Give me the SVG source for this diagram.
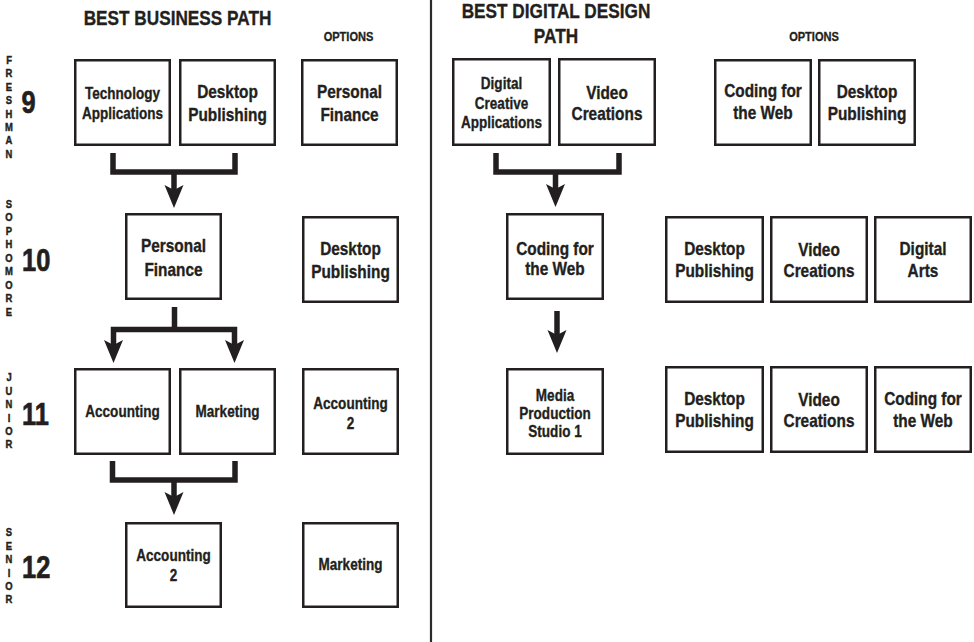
<svg xmlns="http://www.w3.org/2000/svg" xmlns:xlink="http://www.w3.org/1999/xlink" width="974" height="642" viewBox="0 0 974 642">
<style>
  text { font-family: 'Liberation Sans', Arial, sans-serif; font-weight: bold; fill: #231f20; stroke: #231f20; stroke-width: 0.35; }
  .box { fill: #ffffff; stroke: #231f20; stroke-width: 2.5; }
  .t18 { font-size: 18px; text-anchor: middle; }
  .t16 { font-size: 16.5px; text-anchor: middle; }
  .title { font-size: 21px; text-anchor: middle; }
  .opt { font-size: 13.5px; text-anchor: middle; }
  .year { font-size: 31px; stroke-width: 0.7; }
  .vert { font-size: 11.5px; text-anchor: middle; stroke-width: 0.45; }
  .conn { fill: none; stroke: #231f20; stroke-width: 5.5; stroke-linejoin: miter; stroke-linecap: butt; }
  .divider { stroke: #2b2b2b; stroke-width: 2.2; }
</style>
<defs>
  <path id="ah" d="M0,0 L-9.5,-23 L0,-18 L9.5,-23 Z" fill="#231f20"/>
</defs>
<rect x="0" y="0" width="974" height="642" fill="#ffffff"/>

<line class="divider" x1="431" y1="0" x2="431" y2="642"/>

<!-- Headings -->
<g id="headings">
  <text class="title" transform="matrix(0.82 0 0 1 177.5 25)">BEST BUSINESS PATH</text>
  <text class="opt" transform="matrix(0.82 0 0 1 348.5 41)">OPTIONS</text>
  <text class="title" transform="matrix(0.82 0 0 1 556 18)">BEST DIGITAL DESIGN</text>
  <text class="title" transform="matrix(0.82 0 0 1 556 43)">PATH</text>
  <text class="opt" transform="matrix(0.82 0 0 1 814 41)">OPTIONS</text>
</g>

<!-- Year labels -->
<g id="year-9">
  <text class="vert" transform="matrix(0.82 0 0 1 9 0)"><tspan x="0" y="64">F</tspan><tspan x="0" y="77.4">R</tspan><tspan x="0" y="90.8">E</tspan><tspan x="0" y="104.2">S</tspan><tspan x="0" y="117.6">H</tspan><tspan x="0" y="131">M</tspan><tspan x="0" y="144.4">A</tspan><tspan x="0" y="157.8">N</tspan></text>
  <text class="year" transform="matrix(0.82 0 0 1 21.5 113)">9</text>
</g>
<g id="year-10">
  <text class="vert" transform="matrix(0.82 0 0 1 9 0)"><tspan x="0" y="208">S</tspan><tspan x="0" y="221.5">O</tspan><tspan x="0" y="235">P</tspan><tspan x="0" y="248.5">H</tspan><tspan x="0" y="262">O</tspan><tspan x="0" y="275.5">M</tspan><tspan x="0" y="289">O</tspan><tspan x="0" y="302.5">R</tspan><tspan x="0" y="316">E</tspan></text>
  <text class="year" transform="matrix(0.82 0 0 1 22 271)">10</text>
</g>
<g id="year-11">
  <text class="vert" transform="matrix(0.82 0 0 1 9 0)"><tspan x="0" y="381.5">J</tspan><tspan x="0" y="394.9">U</tspan><tspan x="0" y="408.3">N</tspan><tspan x="0" y="421.7">I</tspan><tspan x="0" y="435.1">O</tspan><tspan x="0" y="448.5">R</tspan></text>
  <text class="year" transform="matrix(0.82 0 0 1 22 425)">11</text>
</g>
<g id="year-12">
  <text class="vert" transform="matrix(0.82 0 0 1 9 0)"><tspan x="0" y="536.5">S</tspan><tspan x="0" y="549.9">E</tspan><tspan x="0" y="563.3">N</tspan><tspan x="0" y="576.7">I</tspan><tspan x="0" y="590.1">O</tspan><tspan x="0" y="603.5">R</tspan></text>
  <text class="year" transform="matrix(0.82 0 0 1 22 578)">12</text>
</g>

<!-- Business path nodes -->
<g id="bus-tech-apps">
  <rect class="box" x="75.25" y="60.25" width="94.5" height="84.5"/>
  <text class="t16" transform="matrix(0.82 0 0 1 122.5 98.5)">Technology</text>
  <text class="t16" transform="matrix(0.82 0 0 1 122.5 118.5)">Applications</text>
</g>
<g id="bus-desktop-pub">
  <rect class="box" x="180.25" y="60.25" width="94.5" height="84.5"/>
  <text class="t18" transform="matrix(0.855 0 0 1 227.5 97.5)">Desktop</text>
  <text class="t18" transform="matrix(0.855 0 0 1 227.5 121)">Publishing</text>
</g>
<g id="bus-opt-personal-finance">
  <rect class="box" x="302.25" y="60.25" width="94.5" height="84.5"/>
  <text class="t18" transform="matrix(0.855 0 0 1 349.5 97.5)">Personal</text>
  <text class="t18" transform="matrix(0.855 0 0 1 349.5 121)">Finance</text>
</g>
<g id="bus-personal-finance">
  <rect class="box" x="126.25" y="214.25" width="94.5" height="84.5"/>
  <text class="t18" transform="matrix(0.855 0 0 1 173.5 252)">Personal</text>
  <text class="t18" transform="matrix(0.855 0 0 1 173.5 275.5)">Finance</text>
</g>
<g id="bus-opt-desktop-pub">
  <rect class="box" x="303.25" y="217.25" width="94.5" height="84.5"/>
  <text class="t18" transform="matrix(0.855 0 0 1 350.5 255)">Desktop</text>
  <text class="t18" transform="matrix(0.855 0 0 1 350.5 278)">Publishing</text>
</g>
<g id="bus-accounting">
  <rect class="box" x="75.25" y="369.25" width="94.5" height="84.5"/>
  <text class="t16" transform="matrix(0.82 0 0 1 122.5 417)">Accounting</text>
</g>
<g id="bus-marketing">
  <rect class="box" x="180.25" y="369.25" width="94.5" height="84.5"/>
  <text class="t16" transform="matrix(0.82 0 0 1 227.5 417)">Marketing</text>
</g>
<g id="bus-opt-accounting2">
  <rect class="box" x="303.25" y="369.25" width="94.5" height="84.5"/>
  <text class="t16" transform="matrix(0.82 0 0 1 350.5 408.5)">Accounting</text>
  <text class="t16" transform="matrix(0.82 0 0 1 350.5 428.5)">2</text>
</g>
<g id="bus-accounting2">
  <rect class="box" x="126.25" y="523.25" width="94.5" height="83.5"/>
  <text class="t16" transform="matrix(0.82 0 0 1 173.5 561)">Accounting</text>
  <text class="t16" transform="matrix(0.82 0 0 1 173.5 581)">2</text>
</g>
<g id="bus-opt-marketing">
  <rect class="box" x="303.25" y="523.25" width="94.5" height="83.5"/>
  <text class="t16" transform="matrix(0.82 0 0 1 350.5 569.5)">Marketing</text>
</g>

<!-- Digital design path nodes -->
<g id="dd-digital-creative">
  <rect class="box" x="453.25" y="59.25" width="96.5" height="85.5"/>
  <text class="t16" transform="matrix(0.82 0 0 1 501.5 89)">Digital</text>
  <text class="t16" transform="matrix(0.82 0 0 1 501.5 108.5)">Creative</text>
  <text class="t16" transform="matrix(0.82 0 0 1 501.5 128)">Applications</text>
</g>
<g id="dd-video-creations">
  <rect class="box" x="559.25" y="59.25" width="95.5" height="85.5"/>
  <text class="t18" transform="matrix(0.855 0 0 1 607 99)">Video</text>
  <text class="t18" transform="matrix(0.855 0 0 1 607 120)">Creations</text>
</g>
<g id="dd-opt-coding-web">
  <rect class="box" x="715.25" y="60.25" width="95.5" height="84.5"/>
  <text class="t18" transform="matrix(0.855 0 0 1 763 97)">Coding for</text>
  <text class="t18" transform="matrix(0.855 0 0 1 763 118.5)">the Web</text>
</g>
<g id="dd-opt-desktop-pub">
  <rect class="box" x="819.25" y="60.25" width="95.5" height="84.5"/>
  <text class="t18" transform="matrix(0.855 0 0 1 867 97.5)">Desktop</text>
  <text class="t18" transform="matrix(0.855 0 0 1 867 120)">Publishing</text>
</g>
<g id="dd-coding-web">
  <rect class="box" x="507.25" y="214.25" width="95.5" height="84.5"/>
  <text class="t18" transform="matrix(0.855 0 0 1 555 254.5)">Coding for</text>
  <text class="t18" transform="matrix(0.855 0 0 1 555 274.5)">the Web</text>
</g>
<g id="dd-opt2-desktop-pub">
  <rect class="box" x="666.25" y="217.25" width="96.5" height="84.5"/>
  <text class="t18" transform="matrix(0.855 0 0 1 714.5 255)">Desktop</text>
  <text class="t18" transform="matrix(0.855 0 0 1 714.5 277)">Publishing</text>
</g>
<g id="dd-opt2-video">
  <rect class="box" x="771.25" y="217.25" width="95.5" height="84.5"/>
  <text class="t18" transform="matrix(0.855 0 0 1 819 256)">Video</text>
  <text class="t18" transform="matrix(0.855 0 0 1 819 277)">Creations</text>
</g>
<g id="dd-opt2-digital-arts">
  <rect class="box" x="875.25" y="217.25" width="95.5" height="84.5"/>
  <text class="t18" transform="matrix(0.855 0 0 1 923 255)">Digital</text>
  <text class="t18" transform="matrix(0.855 0 0 1 923 277)">Arts</text>
</g>
<g id="dd-media-production">
  <rect class="box" x="507.25" y="369.25" width="95.5" height="84.5"/>
  <text class="t16" transform="matrix(0.82 0 0 1 555 400.5)">Media</text>
  <text class="t16" transform="matrix(0.82 0 0 1 555 419)">Production</text>
  <text class="t16" transform="matrix(0.82 0 0 1 555 437)">Studio 1</text>
</g>
<g id="dd-opt3-desktop-pub">
  <rect class="box" x="666.25" y="367.25" width="96.5" height="84.5"/>
  <text class="t18" transform="matrix(0.855 0 0 1 714.5 405)">Desktop</text>
  <text class="t18" transform="matrix(0.855 0 0 1 714.5 427)">Publishing</text>
</g>
<g id="dd-opt3-video">
  <rect class="box" x="771.25" y="367.25" width="95.5" height="84.5"/>
  <text class="t18" transform="matrix(0.855 0 0 1 819 406)">Video</text>
  <text class="t18" transform="matrix(0.855 0 0 1 819 427)">Creations</text>
</g>
<g id="dd-opt3-coding-web">
  <rect class="box" x="875.25" y="367.25" width="95.5" height="84.5"/>
  <text class="t18" transform="matrix(0.855 0 0 1 923 405)">Coding for</text>
  <text class="t18" transform="matrix(0.855 0 0 1 923 427)">the Web</text>
</g>

<!-- Connectors -->
<g id="connectors">
  <path class="conn" d="M113,153 V172 H235 V153"/>
  <path class="conn" d="M174,172 V192"/>
  <use xlink:href="#ah" x="174" y="208"/>

  <path class="conn" d="M174.5,307 V329.5"/>
  <path class="conn" d="M113.5,347 V329.5 H234.5 V347"/>
  <use xlink:href="#ah" x="113.5" y="363"/>
  <use xlink:href="#ah" x="234.5" y="363"/>

  <path class="conn" d="M112.5,461 V480 H235 V461"/>
  <path class="conn" d="M174,480 V499"/>
  <use xlink:href="#ah" x="174" y="515"/>

  <path class="conn" d="M496,153 V172 H619 V153"/>
  <path class="conn" d="M555.5,172 V191"/>
  <use xlink:href="#ah" x="555.5" y="207"/>

  <path class="conn" d="M557,311 V337"/>
  <use xlink:href="#ah" x="557" y="353"/>
</g>
</svg>
